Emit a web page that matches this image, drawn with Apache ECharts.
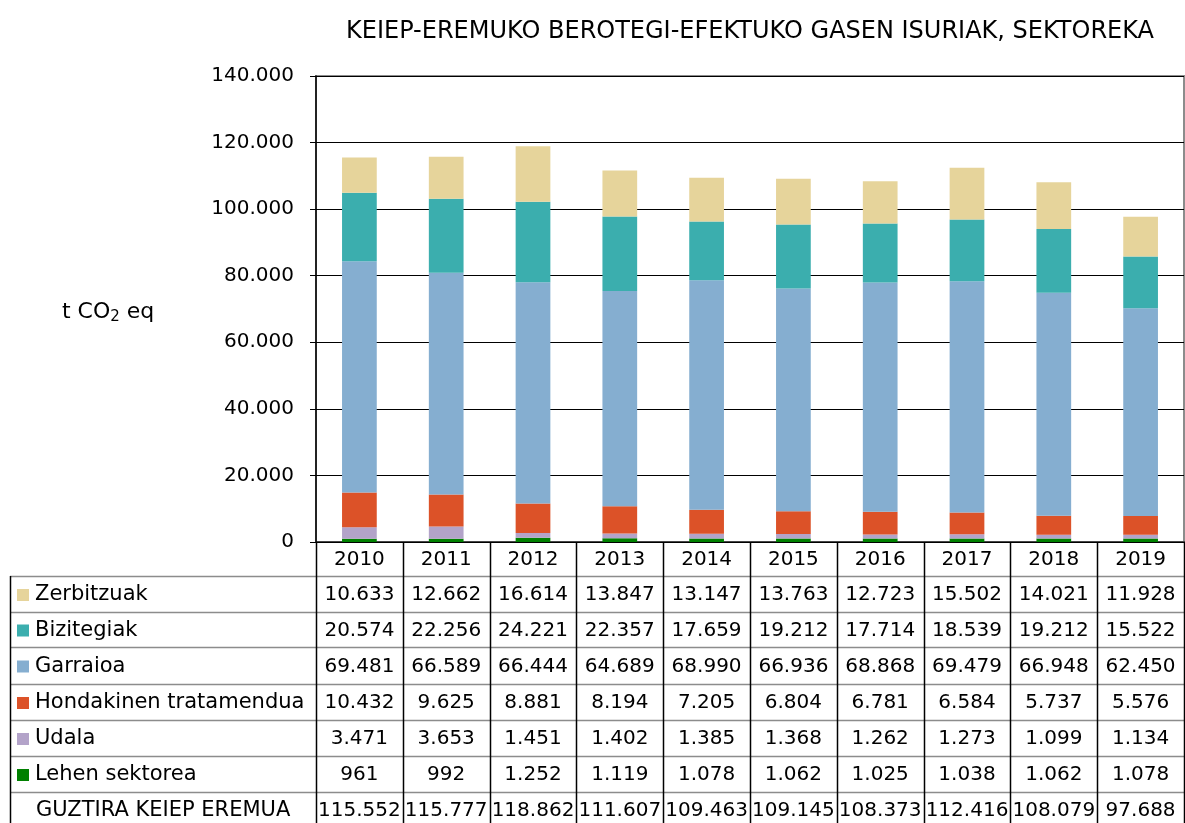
<!DOCTYPE html>
<html>
<head>
<meta charset="utf-8">
<title>KEIEP isuriak</title>
<script src="https://cdn.jsdelivr.net/npm/echarts@6/dist/echarts.min.js"></script>
<style>
  html, body { margin: 0; padding: 0; background: #fff; }
</style>
</head>
<body>
<div id="main" style="width:1185px;height:823px;"></div>
<script>
// datuak
var years = ['2010', '2011', '2012', '2013', '2014', '2015', '2016', '2017', '2018', '2019'];
var lehen = [961, 992, 1252, 1119, 1078, 1062, 1025, 1038, 1062, 1078];
var udala = [3471, 3653, 1451, 1402, 1385, 1368, 1262, 1273, 1099, 1134];
var hondakinak = [10432, 9625, 8881, 8194, 7205, 6804, 6781, 6584, 5737, 5576];
var garraioa = [69481, 66589, 66444, 64689, 68990, 66936, 68868, 69479, 66948, 62450];
var bizitegiak = [20574, 22256, 24221, 22357, 17659, 19212, 17714, 18539, 19212, 15522];
var zerbitzuak = [10633, 12662, 16614, 13847, 13147, 13763, 12723, 15502, 14021, 11928];
var guztira = [115552, 115777, 118862, 111607, 109463, 109145, 108373, 112416, 108079, 97688];

var fontFam = '"DejaVu Sans", Verdana, sans-serif';

// goitik behera, taulan bezala
var rows = [
  { name: 'Zerbitzuak', data: zerbitzuak, color: '#E6D49B' },
  { name: 'Bizitegiak', data: bizitegiak, color: '#3BAEAE' },
  { name: 'Garraioa', data: garraioa, color: '#85AED0' },
  { name: 'Hondakinen tratamendua', data: hondakinak, color: '#DC5228' },
  { name: 'Udala', data: udala, color: '#B3A3C9' },
  { name: 'Lehen sektorea', data: lehen, color: '#008000' }
];

function fmt(v) {
  return String(v).replace(/\B(?=(\d{3})+(?!\d))/g, '.');
}

var gridLeft = 316, gridTop = 76, gridBottomY = 542;

var myChart = echarts.init(document.getElementById('main'));

var series = [];
for (var i = rows.length - 1; i >= 0; i--) {
  series.push({
    name: rows[i].name,
    type: 'bar',
    stack: 'total',
    barWidth: '40%',
    itemStyle: { color: rows[i].color },
    data: rows[i].data
  });
}

var option = {
  animation: false,
  title: {
    text: 'KEIEP-EREMUKO BEROTEGI-EFEKTUKO GASEN ISURIAK, SEKTOREKA',
    left: 745,
    textAlign: 'center',
    top: 15,
    textStyle: { fontFamily: fontFam, fontWeight: 'normal', fontSize: 24, color: '#000' }
  },
  grid: {
    left: gridLeft,
    right: 1,
    top: gridTop,
    bottom: 823 - gridBottomY,
    show: true,
    borderColor: '#8c8c8c',
    borderWidth: 2
  },
  xAxis: {
    type: 'category',
    data: years,
    axisLine: { show: true, lineStyle: { color: '#000', width: 1 } },
    axisTick: { show: false },
    axisLabel: { show: false }
  },
  yAxis: {
    type: 'value',
    min: 0,
    max: 140000,
    interval: 20000,
    axisLine: { show: true, lineStyle: { color: '#000', width: 1.5 } },
    axisTick: { show: true, length: 6, lineStyle: { color: '#000' } },
    splitLine: { lineStyle: { color: '#000', width: 1 } },
    axisLabel: {
      formatter: fmt,
      fontFamily: fontFam,
      fontSize: 20,
      color: '#000',
      margin: 22
    }
  },
  series: series
};
myChart.setOption(option);

// datu-taula, ardatzaren eskalarekin lerrokatua
var rowTops = [542, 576, 612, 647, 684, 720, 756, 792, 830];
var catW = (1185 - 1 - gridLeft) / years.length;
var colEdges = [];
for (var c2 = 0; c2 <= years.length; c2++) colEdges.push(Math.round(gridLeft + c2 * catW));

var g = [];
var lineStyle = { stroke: '#000', lineWidth: 1 };
// horizontal lines
g.push({ type: 'line', shape: { x1: gridLeft, y1: rowTops[0], x2: 1185, y2: rowTops[0] }, style: lineStyle, silent: true });
for (var r = 1; r < 8; r++) {
  g.push({ type: 'line', shape: { x1: 10, y1: rowTops[r] + 0.5, x2: 1185, y2: rowTops[r] + 0.5 }, style: { stroke: '#8c8c8c', lineWidth: 1.5 }, silent: true });
}
// vertical lines
for (var c3 = 0; c3 <= years.length; c3++) {
  g.push({ type: 'line', shape: { x1: colEdges[c3] + 0.5, y1: rowTops[0], x2: colEdges[c3] + 0.5, y2: 823 }, style: { stroke: '#000', lineWidth: 1.5 }, silent: true });
}
g.push({ type: 'line', shape: { x1: 10.5, y1: rowTops[1], x2: 10.5, y2: 823 }, style: { stroke: '#000', lineWidth: 1.5 }, silent: true });

// urteak
for (var k = 0; k < years.length; k++) {
  var cx = myChart.convertToPixel({ xAxisIndex: 0 }, k);
  g.push({ type: 'text', x: cx, y: (rowTops[0] + rowTops[1]) / 2 + 1, silent: true,
    style: { text: years[k], align: 'center', verticalAlign: 'middle', fontFamily: fontFam, fontSize: 20, fill: '#000' } });
}
// serieak
for (var ri = 0; ri < rows.length; ri++) {
  var cy = (rowTops[ri + 1] + rowTops[ri + 2]) / 2 + 1;
  g.push({ type: 'rect', shape: { x: 17, y: cy - 6, width: 12, height: 12 }, style: { fill: rows[ri].color }, silent: true });
  g.push({ type: 'text', x: 35, y: cy, silent: true,
    style: { text: rows[ri].name, align: 'left', verticalAlign: 'middle', fontFamily: fontFam, fontSize: 21, fill: '#000' } });
  for (var k2 = 0; k2 < years.length; k2++) {
    var cx2 = myChart.convertToPixel({ xAxisIndex: 0 }, k2);
    g.push({ type: 'text', x: cx2, y: cy, silent: true,
      style: { text: fmt(rows[ri].data[k2]), align: 'center', verticalAlign: 'middle', fontFamily: fontFam, fontSize: 20, fill: '#000' } });
  }
}
// guztira
var ty = (rowTops[7] + 823) / 2 + 3;
g.push({ type: 'text', x: 36, y: ty, silent: true,
  style: { text: 'GUZTIRA KEIEP EREMUA', align: 'left', verticalAlign: 'middle', fontFamily: fontFam, fontSize: 21, fill: '#000' } });
for (var k3 = 0; k3 < years.length; k3++) {
  var cx3 = myChart.convertToPixel({ xAxisIndex: 0 }, k3);
  g.push({ type: 'text', x: cx3, y: ty, silent: true,
    style: { text: fmt(guztira[k3]), align: 'center', verticalAlign: 'middle', fontFamily: fontFam, fontSize: 20, fill: '#000' } });
}
// ardatzaren izena
g.push({ type: 'text', x: 62, y: 312, silent: true,
  style: {
    text: '{a|t CO}{s|2}{a| eq}',
    verticalAlign: 'middle',
    rich: {
      a: { fontFamily: fontFam, fontSize: 22, color: '#000' },
      s: { fontFamily: fontFam, fontSize: 15, color: '#000', padding: [11, 0, 0, 0] }
    }
  } });

myChart.setOption({ graphic: g });
</script>
</body>
</html>
